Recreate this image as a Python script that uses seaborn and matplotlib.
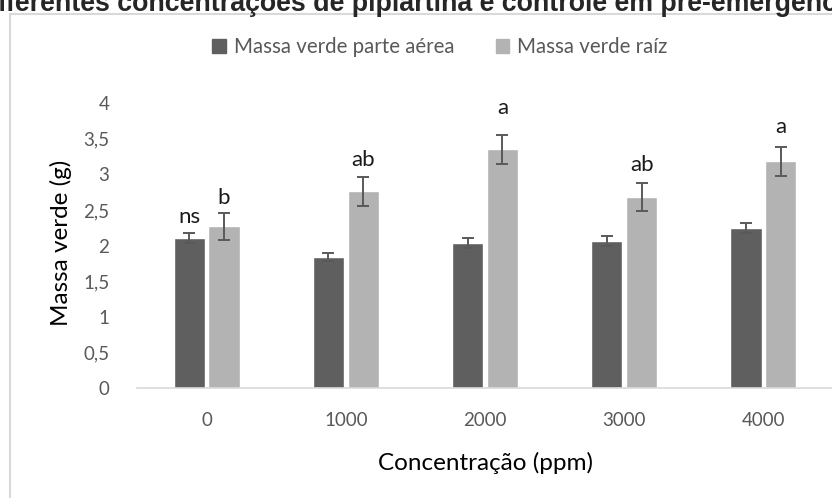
import matplotlib
matplotlib.use("Agg")
import matplotlib.pyplot as plt
import matplotlib.patches as mpatches
import seaborn as sns
import pandas as pd
import numpy as np

categories = ["0", "1000", "2000", "3000", "4000"]
series_names = ["Massa verde parte aérea", "Massa verde raíz"]
parte_aerea = [2.10, 1.84, 2.04, 2.07, 2.24]
parte_aerea_err = [0.07, 0.06, 0.07, 0.07, 0.07]
raiz = [2.27, 2.76, 3.35, 2.68, 3.18]
raiz_err = [0.19, 0.20, 0.20, 0.20, 0.20]
letters_aerea = ["ns", "", "", "", ""]
letters_raiz = ["b", "ab", "a", "ab", "a"]
letters_aerea_y = [2.31, None, None, None, None]
letters_raiz_y = [2.58, 3.11, 3.85, 3.04, 3.58]
y_ticks = [0, 0.5, 1, 1.5, 2, 2.5, 3, 3.5, 4]
y_tick_labels = ["0", "0,5", "1", "1,5", "2", "2,5", "3", "3,5", "4"]
title = "diferentes concentrações de piplartina e controle em pré-emergência"
xlabel = "Concentração (ppm)"
ylabel = "Massa verde (g)"

colors = ["#5f5f5f", "#b3b3b3"]
df = pd.DataFrame({
    "conc": categories * 2,
    "serie": [series_names[0]] * 5 + [series_names[1]] * 5,
    "valor": parte_aerea + raiz,
})

sns.set_theme(style="white")
plt.rcParams["font.family"] = ["Lato", "DejaVu Sans"]

fig = plt.figure(figsize=(8.32, 4.98), dpi=100)
ax = fig.add_axes([137 / 832, 1 - 388 / 498, (833 - 137) / 832, (388 - 103) / 498])

sns.barplot(data=df, x="conc", y="valor", hue="serie", order=categories,
            hue_order=series_names, palette=colors, width=0.5, gap=0.1,
            errorbar=None, ax=ax, legend=False, saturation=1)

bar_containers = list(ax.containers)[:2]
errs = [parte_aerea_err, raiz_err]
vals = [parte_aerea, raiz]
lets = [letters_aerea, letters_raiz]
lets_y = [letters_aerea_y, letters_raiz_y]
for ci, cont in enumerate(bar_containers):
    for i, bar in enumerate(cont.patches):
        xc = bar.get_x() + bar.get_width() / 2
        ax.errorbar(xc, vals[ci][i], yerr=errs[ci][i], fmt="none",
                    ecolor="#595959", elinewidth=1.4, capsize=4.5, capthick=1.4)
        if lets[ci][i]:
            ax.text(xc, lets_y[ci][i], lets[ci][i],
                    ha="center", va="baseline", fontsize=16, color="#1a1a1a")

ax.set_ylim(0, 4)
ax.set_xlim(-0.5, 4.5)
ax.set_yticks(y_ticks)
ax.set_yticklabels(y_tick_labels)
ax.tick_params(axis="x", length=0, labelsize=13.5, labelcolor="#595959", pad=17)
ax.tick_params(axis="y", length=0, labelsize=13.5, labelcolor="#595959", pad=20)
ax.set_xlabel(xlabel, fontsize=17.5, color="#000000", labelpad=17)
ax.set_ylabel(ylabel, fontsize=17.5, color="#000000")
ax.yaxis.set_label_coords(-0.093, 0.51)
for s in ["top", "right", "left"]:
    ax.spines[s].set_visible(False)
ax.spines["bottom"].set_color("#d9d9d9")
ax.spines["bottom"].set_linewidth(1.2)
ax.grid(False)

handles = [mpatches.Patch(color=c, label=n) for c, n in zip(colors, series_names)]
fig.legend(handles=handles, loc="center", bbox_to_anchor=(440 / 832, 1 - 47 / 498),
           ncol=2, frameon=False, fontsize=14.8, labelcolor="#595959",
           handlelength=0.65, handleheight=0.65, handletextpad=0.4, columnspacing=2.0)

fig.text(0.5 + 5 / 832, 1 - 11 / 498, title, ha="center", va="baseline",
         fontsize=19.3, fontweight="bold", family=["Liberation Sans", "DejaVu Sans"])

fig.patches.append(mpatches.Rectangle((10 / 832, -0.2), 1.5, 1.2 - 14 / 498,
                                      transform=fig.transFigure, fill=False,
                                      edgecolor="#d9d9d9", linewidth=1.5))

fig.savefig("out.png", dpi=100)
